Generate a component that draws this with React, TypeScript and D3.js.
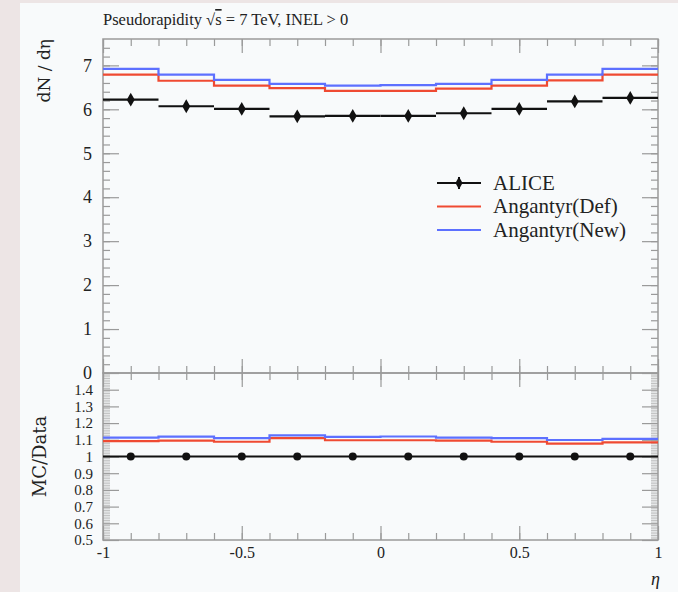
import React, { useEffect, useRef } from 'react';
import * as d3 from 'd3';

// bin edges in eta, 10 bins of 0.2
const binEdges = [-1, -0.8, -0.6, -0.4, -0.2, 0, 0.2, 0.4, 0.6, 0.8, 1];
const aliceValues = [6.22, 6.07, 6.01, 5.84, 5.85, 5.85, 5.91, 6.01, 6.18, 6.26];
const aliceErrors = [0.1, 0.1, 0.1, 0.1, 0.1, 0.1, 0.1, 0.1, 0.1, 0.1];
const defValues = [6.79, 6.65, 6.54, 6.48, 6.42, 6.42, 6.47, 6.54, 6.66, 6.79];
const newValues = [6.92, 6.79, 6.67, 6.58, 6.54, 6.55, 6.58, 6.67, 6.79, 6.92];

const xTickLabels = [-1, -0.5, 0, 0.5, 1];
const yTickLabels = [0, 1, 2, 3, 4, 5, 6, 7];
const ratioTickLabels = [0.5, 0.6, 0.7, 0.8, 0.9, 1, 1.1, 1.2, 1.3, 1.4];

const legendNames = ['ALICE', 'Angantyr(Def)', 'Angantyr(New)'];

const RED = '#ef4a32';
const BLUE = '#5d70ff';
const FRAME = '#9a9a9a';
const FONT = 'Liberation Serif, serif';
const WIDE_FONT = 'DejaVu Serif, serif';

export default function App() {
  const ref = useRef(null);

  const width = 678,
    height = 592;
  const left = 103,
    right = 658,
    mainTop = 39,
    mainBottom = 373,
    ratioBottom = 540;

  useEffect(() => {
    document.body.style.margin = '0';
    const svg = d3.select(ref.current);
    svg.selectAll('*').remove();

    const x = d3.scaleLinear().domain([-1, 1]).range([left, right]);
    const y = d3.scaleLinear().domain([0, 7.6]).range([mainBottom, mainTop]);
    const yr = d3.scaleLinear().domain([0.5, 1.5]).range([ratioBottom, mainBottom]);

    // backgrounds
    svg.append('rect').attr('width', width).attr('height', height).attr('fill', '#ede5e5');
    svg
      .append('rect')
      .attr('x', 20)
      .attr('y', 3)
      .attr('width', width - 20)
      .attr('height', height - 3)
      .attr('fill', '#f8fafb');

    const styleAxis = (g) => {
      g.select('.domain').remove();
      g.selectAll('.tick line').attr('stroke', FRAME).attr('stroke-width', 1.2);
      g.selectAll('.tick text').attr('font-family', FONT).attr('fill', '#222');
    };

    const xMinor = d3.range(-1, 1.0001, 0.1).map((v) => +v.toFixed(2));

    // x ticks: main top/bottom, ratio top/bottom
    const xAxisAt = (yPos, dir, size, vals) => {
      const ax = dir === 'up' ? d3.axisBottom(x) : d3.axisTop(x);
      svg
        .append('g')
        .attr('transform', `translate(0,${yPos})`)
        .call(ax.tickValues(vals).tickSize(-size).tickFormat(''))
        .call(styleAxis);
    };
    [
      [mainTop, 'down'],
      [mainBottom, 'up'],
      [mainBottom, 'down'],
      [ratioBottom, 'up'],
    ].forEach(([yp, d]) => {
      xAxisAt(yp, d, 7, xMinor);
      xAxisAt(yp, d, 14, xTickLabels);
    });

    // x tick labels
    svg
      .append('g')
      .attr('transform', `translate(0,${ratioBottom})`)
      .call(d3.axisBottom(x).tickValues(xTickLabels).tickSize(0).tickPadding(7).tickFormat((d) => `${d}`))
      .call(styleAxis)
      .call((g) => g.selectAll('.tick text').attr('font-size', 16));

    // main y ticks
    const yMinor = d3.range(0, 7.6, 0.2).map((v) => +v.toFixed(2));
    svg
      .append('g')
      .attr('transform', `translate(${left},0)`)
      .call(d3.axisLeft(y).tickValues(yMinor).tickSize(-7).tickFormat(''))
      .call(styleAxis);
    svg
      .append('g')
      .attr('transform', `translate(${left},0)`)
      .call(d3.axisLeft(y).tickValues(yTickLabels).tickSize(-16).tickPadding(11).tickFormat((d) => `${d}`))
      .call(styleAxis)
      .call((g) => g.selectAll('.tick text').attr('font-size', 18));
    svg
      .append('g')
      .attr('transform', `translate(${right},0)`)
      .call(d3.axisRight(y).tickValues(yMinor).tickSize(-7).tickFormat(''))
      .call(styleAxis);
    svg
      .append('g')
      .attr('transform', `translate(${right},0)`)
      .call(d3.axisRight(y).tickValues(yTickLabels).tickSize(-16).tickFormat(''))
      .call(styleAxis);

    // ratio y ticks
    const rMinor = d3.range(0.5, 1.5001, 0.01).map((v) => +v.toFixed(3));
    svg
      .append('g')
      .attr('transform', `translate(${left},0)`)
      .call(d3.axisLeft(yr).tickValues(rMinor).tickSize(-7).tickFormat(''))
      .call(styleAxis)
      .call((g) => g.selectAll('.tick line').attr('stroke-width', 0.6));
    svg
      .append('g')
      .attr('transform', `translate(${left},0)`)
      .call(
        d3
          .axisLeft(yr)
          .tickValues(ratioTickLabels)
          .tickSize(-16)
          .tickPadding(10)
          .tickFormat((d) => (d === 1 ? '1' : d3.format('.1f')(d)))
      )
      .call(styleAxis)
      .call((g) => g.selectAll('.tick text').attr('font-size', 15));
    svg
      .append('g')
      .attr('transform', `translate(${right},0)`)
      .call(d3.axisRight(yr).tickValues(rMinor).tickSize(-7).tickFormat(''))
      .call(styleAxis)
      .call((g) => g.selectAll('.tick line').attr('stroke-width', 0.6));
    svg
      .append('g')
      .attr('transform', `translate(${right},0)`)
      .call(d3.axisRight(yr).tickValues(ratioTickLabels).tickSize(-16).tickFormat(''))
      .call(styleAxis);

    // frames
    [
      [mainTop, mainBottom],
      [mainBottom, ratioBottom],
    ].forEach(([t, b]) => {
      svg
        .append('rect')
        .attr('x', left)
        .attr('y', t)
        .attr('width', right - left)
        .attr('height', b - t)
        .attr('fill', 'none')
        .attr('stroke', FRAME)
        .attr('stroke-width', 1.5);
    });

    // step line helper
    const stepPts = (vals) => vals.map((v, i) => [binEdges[i], v]).concat([[binEdges[10], vals[9]]]);
    const stepMain = d3
      .line()
      .curve(d3.curveStepAfter)
      .x((d) => x(d[0]))
      .y((d) => y(d[1]));
    const stepRatio = d3
      .line()
      .curve(d3.curveStepAfter)
      .x((d) => x(d[0]))
      .y((d) => yr(d[1]));

    const plotMain = svg.append('g');
    [
      [defValues, RED],
      [newValues, BLUE],
    ].forEach(([vals, col]) => {
      plotMain
        .append('path')
        .datum(stepPts(vals))
        .attr('fill', 'none')
        .attr('stroke', col)
        .attr('stroke-width', 2.2)
        .attr('d', stepMain);
    });

    // ALICE points
    aliceValues.forEach((v, i) => {
      const cx = x((binEdges[i] + binEdges[i + 1]) / 2);
      plotMain
        .append('line')
        .attr('x1', x(binEdges[i]))
        .attr('x2', x(binEdges[i + 1]))
        .attr('y1', y(v))
        .attr('y2', y(v))
        .attr('stroke', '#111')
        .attr('stroke-width', 2.2);
      plotMain
        .append('line')
        .attr('x1', cx)
        .attr('x2', cx)
        .attr('y1', y(v - aliceErrors[i]))
        .attr('y2', y(v + aliceErrors[i]))
        .attr('stroke', '#111')
        .attr('stroke-width', 2);
      plotMain
        .append('path')
        .attr('transform', `translate(${cx},${y(v)})`)
        .attr('d', d3.symbol(d3.symbolDiamond, 55)())
        .attr('fill', '#111');
    });

    // ratio panel
    const plotRatio = svg.append('g');
    [
      [defValues, RED],
      [newValues, BLUE],
    ].forEach(([vals, col]) => {
      plotRatio
        .append('path')
        .datum(stepPts(vals.map((v, i) => v / aliceValues[i])))
        .attr('fill', 'none')
        .attr('stroke', col)
        .attr('stroke-width', 2.2)
        .attr('d', stepRatio);
    });
    plotRatio
      .append('path')
      .datum(stepPts(aliceValues.map(() => 1)))
      .attr('fill', 'none')
      .attr('stroke', '#111')
      .attr('stroke-width', 2)
      .attr('d', stepRatio);
    aliceValues.forEach((v, i) => {
      plotRatio
        .append('circle')
        .attr('cx', x((binEdges[i] + binEdges[i + 1]) / 2))
        .attr('cy', yr(1))
        .attr('r', 4)
        .attr('fill', '#111');
    });

    // legend
    const legend = svg.append('g').attr('transform', 'translate(437,183)');
    legendNames.forEach((name, i) => {
      const row = legend.append('g').attr('transform', `translate(0,${i * 23.5})`);
      const col = i === 0 ? '#111' : i === 1 ? RED : BLUE;
      row.append('line').attr('x1', 0).attr('x2', 44).attr('stroke', col).attr('stroke-width', 2);
      if (i === 0) {
        row.append('line').attr('x1', 22).attr('x2', 22).attr('y1', -6).attr('y2', 6).attr('stroke', '#111').attr('stroke-width', 2);
        row.append('path').attr('transform', 'translate(22,0)').attr('d', d3.symbol(d3.symbolDiamond, 45)()).attr('fill', '#111');
      }
      row
        .append('text')
        .attr('x', 56)
        .attr('y', 6.5)
        .attr('font-family', FONT)
        .attr('font-size', 21)
        .attr('fill', '#222')
        .text(name);
    });

    // title
    const title = svg
      .append('text')
      .attr('x', left)
      .attr('y', 25)
      .attr('font-family', FONT)
      .attr('font-size', 16.5)
      .attr('fill', '#222');
    title.append('tspan').text('Pseudorapidity \u221A');
    title.append('tspan').style('text-decoration', 'overline').text('s');
    title.append('tspan').text(' = 7 TeV, INEL > 0');

    // axis labels
    svg
      .append('text')
      .attr('transform', `translate(50,${mainTop}) rotate(-90)`)
      .attr('text-anchor', 'end')
      .attr('font-family', WIDE_FONT)
      .attr('font-size', 17)
      .attr('fill', '#222')
      .text('dN / d\u03B7');
    svg
      .append('text')
      .attr('transform', `translate(46,${yr(1)}) rotate(-90)`)
      .attr('text-anchor', 'middle')
      .attr('font-family', WIDE_FONT)
      .attr('font-size', 18)
      .attr('fill', '#222')
      .text('MC/Data');
    svg
      .append('text')
      .attr('x', right + 2)
      .attr('y', 585)
      .attr('text-anchor', 'end')
      .attr('font-family', FONT)
      .attr('font-style', 'italic')
      .attr('font-size', 18)
      .attr('fill', '#222')
      .text('\u03B7');
  }, []);

  return <svg ref={ref} width={width} height={height} style={{ display: 'block' }} />;
}
